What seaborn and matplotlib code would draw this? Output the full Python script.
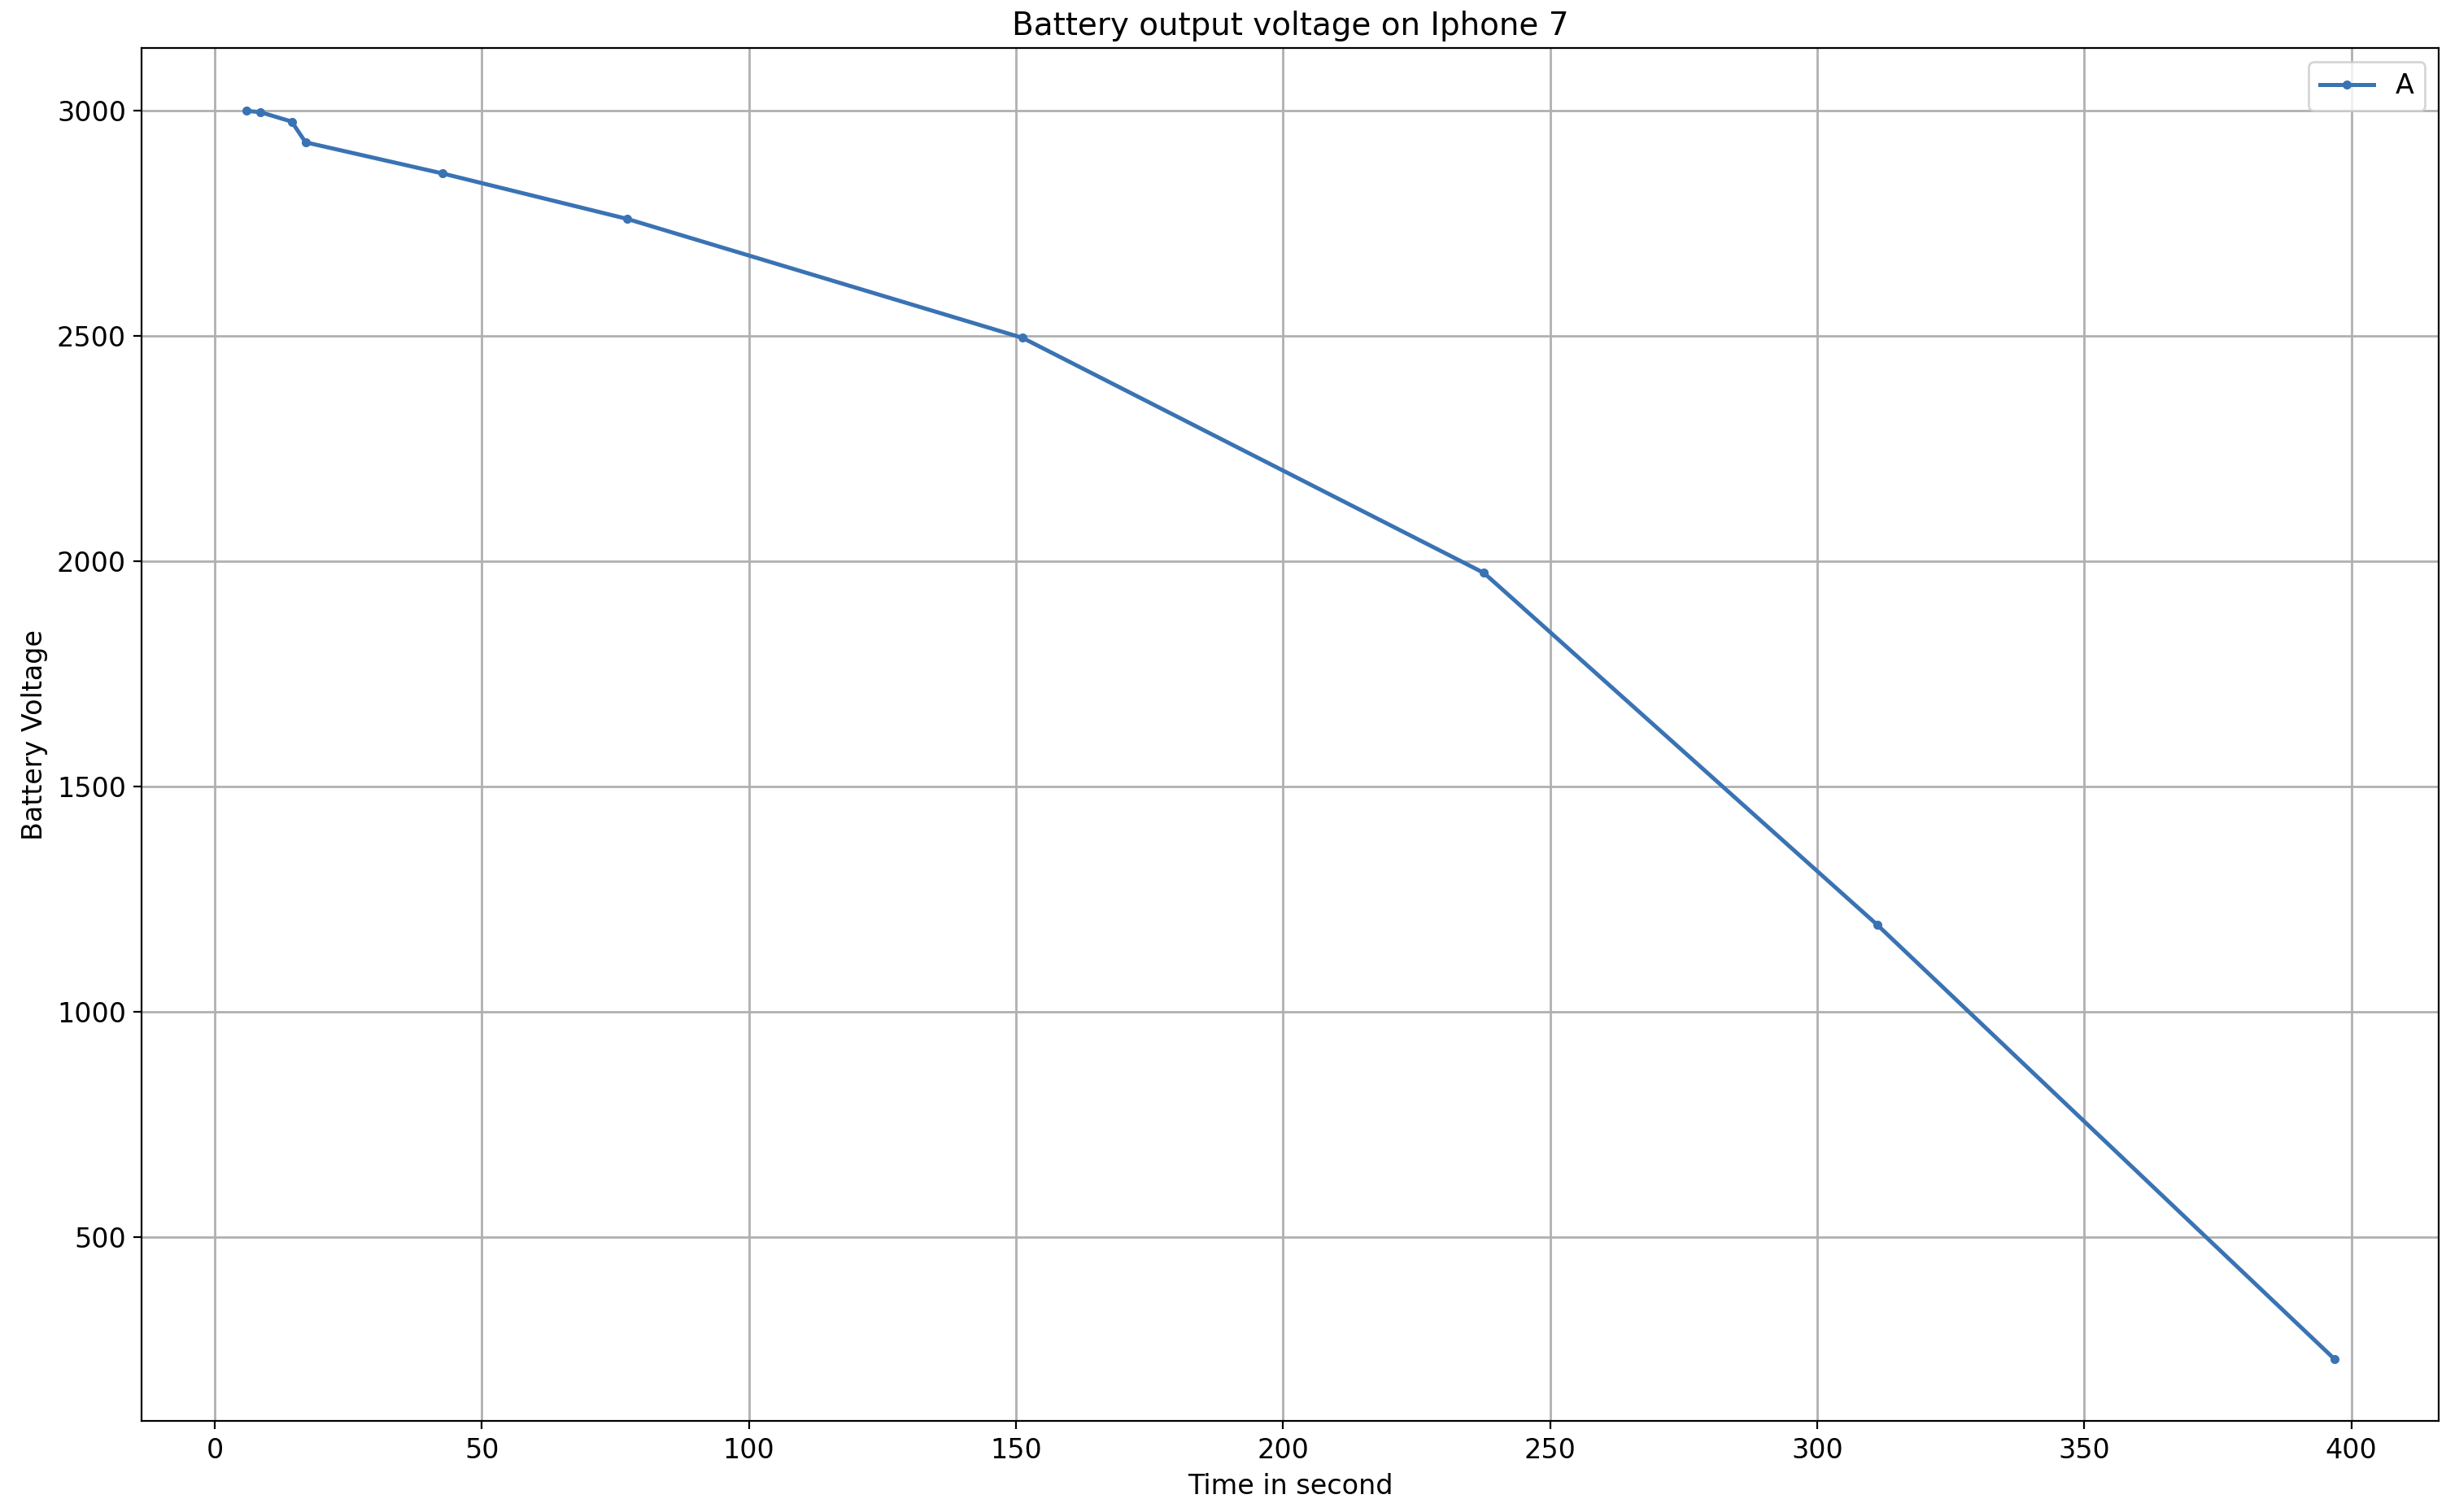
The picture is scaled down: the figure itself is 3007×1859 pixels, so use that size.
import matplotlib
matplotlib.use("Agg")
import matplotlib.pyplot as plt
import seaborn as sns
import pandas as pd

time_s = [5.9, 8.5, 14.4, 17.0, 42.6, 77.2, 151.2, 237.6, 311.3, 396.8]
voltage = [3000, 2997, 2976, 2930, 2861, 2760, 2496, 1974, 1192, 229]
df = pd.DataFrame({"t": time_s, "v": voltage})

fig, ax = plt.subplots(figsize=(15.035, 9.295), dpi=200)
sns.lineplot(data=df, x="t", y="v", ax=ax, color="#3a73b3", marker="o",
             markersize=4, markeredgewidth=0, linewidth=1.8, label="A")
ax.grid(True, color="#b0b0b0", linewidth=1)
ax.set_axisbelow(True)
ax.set_title("Battery output voltage on Iphone 7", fontsize=14)
ax.set_xlabel("Time in second", fontsize=12)
ax.set_ylabel("Battery Voltage", fontsize=12)
ax.tick_params(labelsize=12)
ax.set_xticks(range(0, 401, 50))
ax.set_yticks([500, 1000, 1500, 2000, 2500, 3000])
ax.legend(loc="upper right", fontsize=12)
fig.subplots_adjust(left=0.058, right=0.997, bottom=0.06, top=0.968)
fig.savefig("out.png", dpi=200)
